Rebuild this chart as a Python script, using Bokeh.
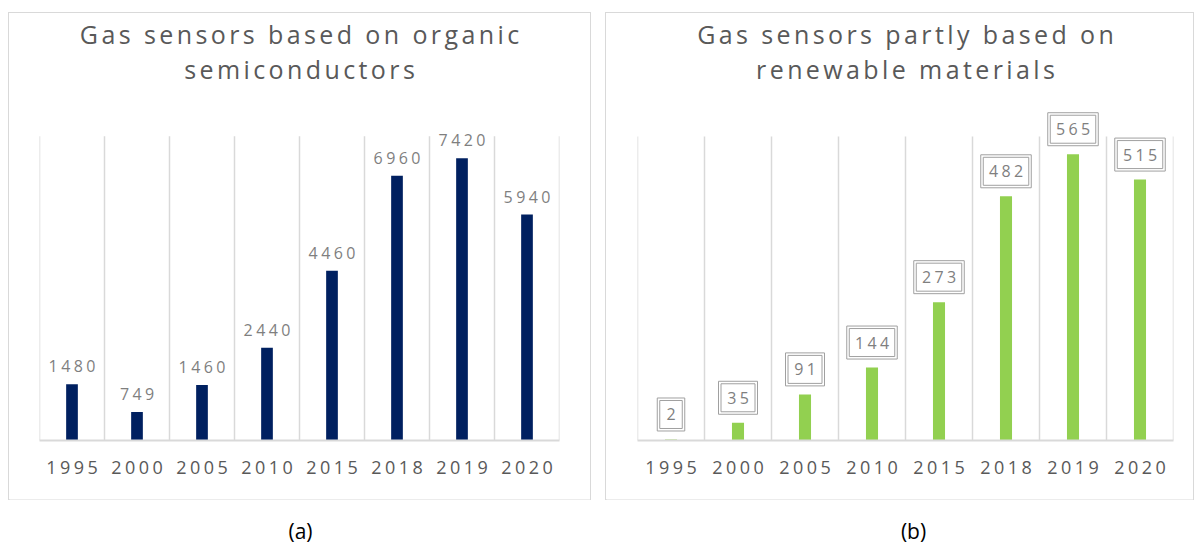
from bokeh.plotting import figure
from bokeh.models import Range1d, FixedTicker, ColumnDataSource, LinearAxis, Spacer
from bokeh.layouts import row, column
from bokeh.embed import file_html
from bokeh.resources import INLINE
from bokeh.core.properties import value

years = ["1995", "2000", "2005", "2010", "2015", "2018", "2019", "2020"]
organic = [1480, 749, 1460, 2440, 4460, 6960, 7420, 5940]
renewable = [2, 35, 91, 144, 273, 482, 565, 515]
title_a = ["Gas sensors based on organic", "semiconductors"]
title_b = ["Gas sensors partly based on", "renewable materials"]
axis_max_a = 8000   # top of the gridlines (hidden value axis maximum)
axis_max_b = 600
caption_a = "(a)"
caption_b = "(b)"

NAVY = "#002060"
GREEN = "#92d050"
GRID = "#d9d9d9"
FONT_NAME = "Open Sans"
FONT = value(FONT_NAME)
LS = 3.4  # letter spacing (px) of the chart texts

H = 486
GRID_TOP_PX = 123   # px between the top of the chart box and the gridline tops


def make_panel(title_lines, vals, axis_max, color, W, left, framew, bottom, boxed):
    n = len(years)
    idx = list(range(n))
    labels = [str(v) for v in vals]
    src = ColumnDataSource(dict(x=idx, top=vals, label=labels,
                                xo=[-(len(s) - 1) * LS / 2 for s in labels],
                                bw=[16 + 11.5 * len(s) for s in labels],
                                bwi=[11 + 11.5 * len(s) for s in labels]))
    frame_h = H - bottom
    grid_h = frame_h - GRID_TOP_PX
    per_px = axis_max / grid_h
    ytop = frame_h * per_px
    p = figure(width=W, height=H,
               x_range=Range1d(-0.5, n - 0.5), y_range=Range1d(0, ytop),
               output_backend="svg", toolbar_location=None, x_axis_location=None,
               y_axis_location=None,
               min_border_left=left, min_border_right=W - left - framew,
               min_border_top=0, min_border_bottom=bottom)
    p.styles = {"letter-spacing": f"{LS}px", "outline": "1px solid #d9d9d9"}
    p.title.visible = False
    p.outline_line_color = None
    p.grid.visible = False
    # two-line chart title
    tsrc = ColumnDataSource(dict(x=[(n - 1) / 2] * 2, y=[ytop] * 2, text=title_lines,
                                 yo=[20, 55],
                                 xo=[-(len(t) - 1) * LS / 2 for t in title_lines]))
    p.text(x="x", y="y", text="text", source=tsrc, x_offset="xo", y_offset="yo",
           text_align="center", text_baseline="middle",
           text_font=FONT, text_font_size="25px", text_color="#595959")
    # vertical gridlines between categories
    gx = [i - 0.5 for i in range(n + 1)]
    p.segment(x0=gx, y0=[0] * len(gx), x1=gx, y1=[axis_max] * len(gx),
              line_color=GRID, line_width=1.5)
    # category axis on a range shifted to centre the letter-spaced tick labels
    d = (3 * LS / 2) / (framew / n)
    p.extra_x_ranges = {"lab": Range1d(-0.5 + d, n - 0.5 + d)}
    ax = LinearAxis(x_range_name="lab")
    ax.ticker = FixedTicker(ticks=idx)
    ax.major_label_overrides = {i: y for i, y in enumerate(years)}
    ax.major_tick_line_color = None
    ax.minor_tick_line_color = None
    ax.axis_line_color = GRID
    ax.axis_line_width = 2
    ax.major_label_text_font = FONT_NAME
    ax.major_label_text_font_size = "18px"
    ax.major_label_text_color = "#595959"
    ax.major_label_standoff = 14
    p.add_layout(ax, "below")
    p.vbar(x="x", top="top", width=0.18, source=src, fill_color=color, line_color=None)
    if not boxed:
        p.text(x="x", y="top", text="label", source=src, x_offset="xo",
               text_align="center", text_baseline="middle", y_offset=-18,
               text_font=FONT, text_font_size="16px", text_color="#7f7f7f")
    else:
        off = 25 * per_px
        p.extra_y_ranges = {"box": Range1d(-off, ytop - off)}
        p.rect(x="x", y="top", width="bw", height=33, width_units="screen",
               height_units="screen", source=src, y_range_name="box",
               fill_color="white", line_color="#a0a0a0", line_width=1)
        p.rect(x="x", y="top", width="bwi", height=28, width_units="screen",
               height_units="screen", source=src, y_range_name="box",
               fill_color=None, line_color="#a0a0a0", line_width=1)
        p.text(x="x", y="top", text="label", source=src, x_offset="xo",
               text_align="center", text_baseline="middle", y_offset=-25,
               text_font=FONT, text_font_size="16px", text_color="#7f7f7f")
    return p


def make_caption(text, W, cx):
    c = figure(width=W, height=47, x_range=Range1d(0, W), y_range=Range1d(0, 47),
               output_backend="svg", toolbar_location=None,
               min_border_left=0, min_border_right=0, min_border_top=0, min_border_bottom=0)
    c.axis.visible = False
    c.grid.visible = False
    c.outline_line_color = None
    c.text(x=[cx], y=[16], text=[text], text_align="center", text_baseline="middle",
           text_font=FONT, text_font_size="21px", text_color="#000000")
    return c


pa = make_panel(title_a, organic, axis_max_a, NAVY, 581, 30, 520, 58, False)
pb = make_panel(title_b, renewable, axis_max_b, GREEN, 587, 31, 536, 59, True)
ca = make_caption(caption_a, 581, 291)
cb = make_caption(caption_b, 587, 307)

layout = column(Spacer(height=13),
                row(Spacer(width=9), pa, Spacer(width=16), pb),
                row(Spacer(width=9), ca, Spacer(width=16), cb))
open("out.html", "w").write(file_html(layout, INLINE))
